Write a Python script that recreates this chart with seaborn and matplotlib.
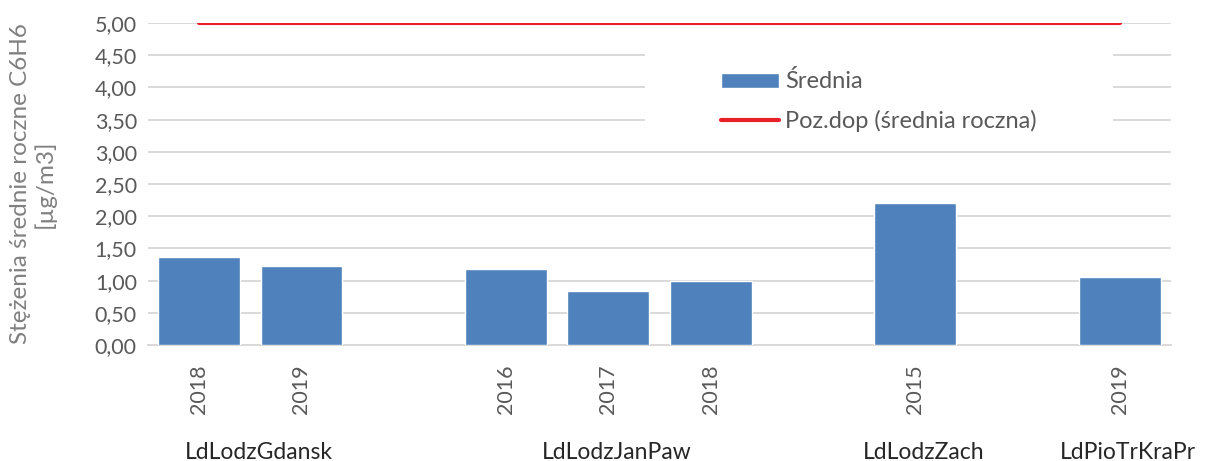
import matplotlib
matplotlib.use("Agg")
import matplotlib.pyplot as plt
from matplotlib.patches import Rectangle
import seaborn as sns
import pandas as pd

# Annual mean benzene (C6H6) concentrations per station and year
stations = ["LdLodzGdansk", "LdLodzJanPaw", "LdLodzZach", "LdPioTrKraPr"]
years = [["2018", "2019"], ["2016", "2017", "2018"], ["2015"], ["2019"]]
means = [[1.37, 1.23], [1.18, 0.84, 0.99], [2.20], [1.05]]
limit_value = 5.00
y_ticks = [0.0, 0.5, 1.0, 1.5, 2.0, 2.5, 3.0, 3.5, 4.0, 4.5, 5.0]

sns.set_theme(style="white")
plt.rcParams["font.family"] = ["Lato", "DejaVu Sans"]

# Category order: station groups separated by one empty slot each
rows, order, tick_text = [], [], []
for gi, (st, ys, vs) in enumerate(zip(stations, years, means)):
    if gi > 0:
        order.append(f"gap{gi}")
        tick_text.append("")
    for y, v in zip(ys, vs):
        key = f"{st}|{y}"
        rows.append({"key": key, "station": st, "year": y, "value": v})
        order.append(key)
        tick_text.append(y)
df = pd.DataFrame(rows)
df["pos"] = [order.index(k) for k in df["key"]]

BLUE = "#4f81bd"
RED = "#e8202a"
GRID = "#d9d9d9"
TICK = "#595959"

fig = plt.figure(figsize=(12.07, 4.61), dpi=100)
ax = fig.add_axes([0.1226, 0.2516, 0.8475, 0.6984])

sns.barplot(data=df, x="key", y="value", order=order, color=BLUE,
            width=0.8, saturation=1, ax=ax, zorder=3, label="Średnia")
sns.lineplot(x=df["pos"].to_numpy(), y=[limit_value] * len(df), color=RED,
             lw=3.0, ax=ax, zorder=4, label="Poz.dop (średnia roczna)")

ax.set_xlim(-0.5, len(order) - 0.5)
ax.set_ylim(0, 5.0)
ax.set_yticks(y_ticks)
ax.set_yticklabels([f"{t:.2f}".replace(".", ",") for t in y_ticks])
ax.yaxis.grid(True, color=GRID, lw=1.4, zorder=0)
ax.set_axisbelow(True)

ax.set_xticks(range(len(order)))
ax.set_xticklabels(tick_text, rotation=90)
ax.tick_params(axis="x", which="major", length=0, pad=14, labelsize=15.5,
               labelcolor=TICK)
ax.tick_params(axis="y", length=0, pad=8, labelsize=15.5, labelcolor=TICK)
ax.set_xticks([i - 0.5 for i in range(len(order) + 1)], minor=True)
ax.tick_params(axis="x", which="minor", length=10, width=1.4, color=GRID)

for s in ["top", "right", "left"]:
    ax.spines[s].set_visible(False)
ax.spines["bottom"].set_color(GRID)
ax.spines["bottom"].set_linewidth(1.4)

ax.set_xlabel("")
ax.set_ylabel("Stężenia średnie roczne C6H6\n[µg/m3]", fontsize=17.5,
              color="#808080", labelpad=28, linespacing=1.1)

# Station names centred under each group of years
for st in stations:
    c = df.loc[df["station"] == st, "pos"].mean()
    ax.text(c + 0.08, -0.335, st, transform=ax.get_xaxis_transform(),
            ha="center", va="center", fontsize=16.5, color="#262626")

# White legend panel hiding the grid behind it
ax.add_patch(Rectangle((0.486, 0.602), 0.457, 0.302, transform=ax.transAxes,
                       facecolor="white", edgecolor="none", zorder=2))
handles, labels = ax.get_legend_handles_labels()
order_leg = [labels.index("Średnia"), labels.index("Poz.dop (średnia roczna)")]
leg = ax.legend([handles[i] for i in order_leg], [labels[i] for i in order_leg],
                loc="center", bbox_to_anchor=(0.7146, 0.757), frameon=False,
                fontsize=17, handlelength=2.45, handleheight=0.6,
                handletextpad=0.25, labelspacing=0.75)
for t in leg.get_texts():
    t.set_color(TICK)

fig.savefig("out.png", dpi=100)
